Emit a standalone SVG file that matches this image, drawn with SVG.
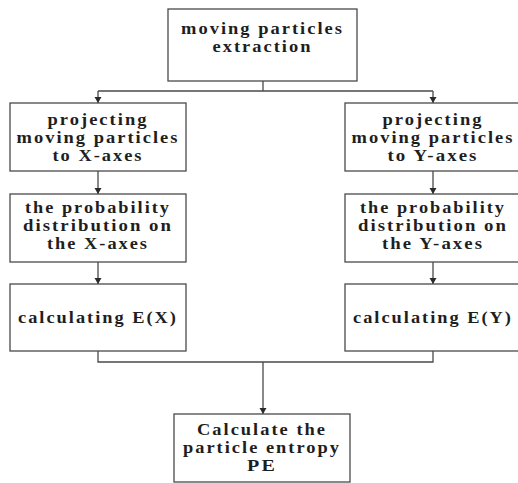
<svg xmlns="http://www.w3.org/2000/svg" width="518" height="483" viewBox="0 0 518 483">
<style>
.box{fill:#fff;stroke:#4a4a4a;stroke-width:1.3}
.t{font-family:"Liberation Serif","Times New Roman",serif;font-weight:bold;font-size:16.5px;letter-spacing:1.8px;fill:#1e1e1e;text-anchor:middle}
.c{fill:none;stroke:#4a4a4a;stroke-width:1.3}
</style>
<defs>
<marker id="ah" markerWidth="8" markerHeight="8" refX="6" refY="3.5" orient="auto" markerUnits="userSpaceOnUse">
<path d="M0,0 L6,3.5 L0,7 Z" fill="#2a2a2a"/>
</marker>
</defs>
<rect width="518" height="483" fill="#fff"/>
<g id="connectors">
<path class="c" d="M263,81 V91 M98,91 H433"/>
<path class="c" d="M98,91 V103" marker-end="url(#ah)"/>
<path class="c" d="M433,91 V103" marker-end="url(#ah)"/>
<path class="c" d="M98,171 V194" marker-end="url(#ah)"/>
<path class="c" d="M433,171 V194" marker-end="url(#ah)"/>
<path class="c" d="M98,262 V284" marker-end="url(#ah)"/>
<path class="c" d="M433,262 V284" marker-end="url(#ah)"/>
<path class="c" d="M98,351 V362 H433 V351"/>
<path class="c" d="M263,362 V414" marker-end="url(#ah)"/>
</g>
<g id="extraction">
<rect class="box" x="168" y="9" width="189" height="72"/>
<text class="t" x="262.5" y="34" textLength="163" lengthAdjust="spacingAndGlyphs">moving particles</text>
<text class="t" x="262.5" y="52" textLength="100" lengthAdjust="spacingAndGlyphs">extraction</text>
</g>
<g id="projX">
<rect class="box" x="10" y="103" width="176" height="68"/>
<text class="t" x="98" y="125" textLength="101" lengthAdjust="spacingAndGlyphs">projecting</text>
<text class="t" x="98" y="143" textLength="163" lengthAdjust="spacingAndGlyphs">moving particles</text>
<text class="t" x="98" y="161" textLength="91" lengthAdjust="spacingAndGlyphs">to X-axes</text>
</g>
<g id="projY">
<rect class="box" x="345" y="103" width="176" height="68"/>
<text class="t" x="433" y="125" textLength="101" lengthAdjust="spacingAndGlyphs">projecting</text>
<text class="t" x="433" y="143" textLength="163" lengthAdjust="spacingAndGlyphs">moving particles</text>
<text class="t" x="433" y="161" textLength="91" lengthAdjust="spacingAndGlyphs">to Y-axes</text>
</g>
<g id="probX">
<rect class="box" x="10" y="194" width="176" height="68"/>
<text class="t" x="98" y="213" textLength="146" lengthAdjust="spacingAndGlyphs">the probability</text>
<text class="t" x="98" y="231" textLength="150" lengthAdjust="spacingAndGlyphs">distribution on</text>
<text class="t" x="98" y="249" textLength="102" lengthAdjust="spacingAndGlyphs">the X-axes</text>
</g>
<g id="probY">
<rect class="box" x="345" y="194" width="176" height="68"/>
<text class="t" x="433" y="213" textLength="146" lengthAdjust="spacingAndGlyphs">the probability</text>
<text class="t" x="433" y="231" textLength="150" lengthAdjust="spacingAndGlyphs">distribution on</text>
<text class="t" x="433" y="249" textLength="102" lengthAdjust="spacingAndGlyphs">the Y-axes</text>
</g>
<g id="calcX">
<rect class="box" x="10" y="284" width="176" height="67"/>
<text class="t" x="98" y="323" textLength="160" lengthAdjust="spacingAndGlyphs">calculating E(X)</text>
</g>
<g id="calcY">
<rect class="box" x="345" y="284" width="176" height="67"/>
<text class="t" x="433" y="323" textLength="160" lengthAdjust="spacingAndGlyphs">calculating E(Y)</text>
</g>
<g id="entropy">
<rect class="box" x="174" y="414" width="176" height="68"/>
<text class="t" x="262" y="435" textLength="130" lengthAdjust="spacingAndGlyphs">Calculate the</text>
<text class="t" x="262" y="453" textLength="158" lengthAdjust="spacingAndGlyphs">particle entropy</text>
<text class="t" x="262" y="471" textLength="30" lengthAdjust="spacingAndGlyphs">PE</text>
</g>
</svg>
